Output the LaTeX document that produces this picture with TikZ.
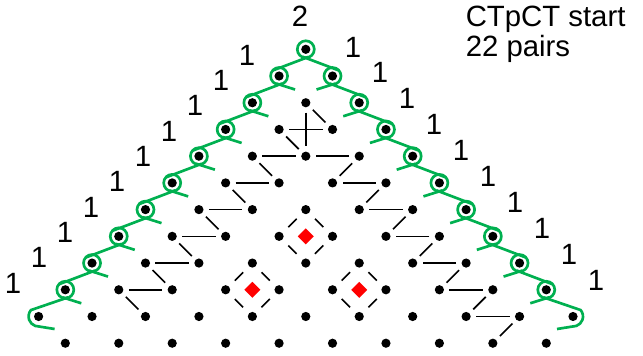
\documentclass[tikz,border=0pt]{standalone}
\usepackage{fontspec}
\setmainfont{Liberation Sans}
\usetikzlibrary{calc}
\definecolor{grn}{RGB}{0,176,80}
\begin{document}
\begin{tikzpicture}[x=0.75pt,y=-0.75pt,
  dot/.style={circle,fill=black,inner sep=0pt,minimum size=6.9pt},
  seg/.style={line width=1.2pt,shorten <=7.5pt,shorten >=7.5pt},
  dseg/.style={line width=1.2pt,shorten <=9.75pt,shorten >=9.75pt},
  rope/.style={draw=grn,line width=2pt},
  lbl/.style={font=\fontsize{22}{26}\selectfont,inner sep=0pt}]
\useasboundingbox (0,0) rectangle (643,356);
\def\U{26.72}
% lattice dots
\foreach \r in {0,...,10}{
  \foreach \j in {0,...,\r}{
    \pgfmathtruncatemacro\bq{\r-\j}
    \node[dot] (d-\j-\bq) at ({305.8+\U*(2*\j-\r)},{49.3+\U*\r}) {};
  }
}
\foreach \j in {1,...,10}{
  \pgfmathtruncatemacro\bq{11-\j}
  \node[dot] (d-\j-\bq) at ({305.8+\U*(2*\j-11)},{49.3+\U*11}) {};
}
% top pairs
\draw[seg] (d-1-1.center) -- (d-2-2.center);
\draw[seg] (d-1-2.center) -- (d-2-1.center);
\draw[seg] (d-1-1.center) -- (d-2-1.center);
\draw[seg] (d-1-2.center) -- (d-2-2.center);
% left chain
\foreach \k [evaluate=\k as \km using int(\k-1)] in {3,...,8}{
  \draw[seg] (d-1-\k.center) -- (d-2-\km.center);
  \draw[seg] (d-1-\k.center) -- (d-2-\k.center);
}
% right chain
\foreach \k [evaluate=\k as \km using int(\k-1)] in {3,...,9}{
  \draw[seg] (d-\k-1.center) -- (d-\km-2.center);
  \draw[seg] (d-\k-1.center) -- (d-\k-2.center);
}
% diamonds
\foreach \pa/\pb in {3/3,3/5,5/3}{
  \pgfmathtruncatemacro\qa{\pa+1}
  \pgfmathtruncatemacro\qb{\pb+1}
  \draw[dseg] (d-\pa-\pb.center) -- (d-\qa-\pb.center);
  \draw[dseg] (d-\qa-\pb.center) -- (d-\qa-\qb.center);
  \draw[dseg] (d-\qa-\qb.center) -- (d-\pa-\qb.center);
  \draw[dseg] (d-\pa-\qb.center) -- (d-\pa-\pb.center);
  \fill[red] ($(d-\pa-\pb.center)!0.5!(d-\qa-\qb.center)$) ++(0,-8) -- ++(8,8) -- ++(-8,8) -- ++(-8,-8) -- cycle;
}
% green rope
\draw[rope] (d-0-0.center) circle (8.5);
\draw[rope] ($(d-0-0.center)+(3,7.5)$) -- ($(d-0-1.center)+(220:8.5)$);
\draw[rope] ($(d-0-0.center)+(-3,7.5)$) -- ($(d-1-0.center)+(-40:8.5)$);
\foreach \r in {1,...,9}{
  \draw[rope] (d-0-\r.center) circle (8.5);
  \draw[rope] ($(d-0-\r.center)+(-3,7.5)$) -- ($(d-0-\r.center)+(16,13.5)$);
  \draw[rope] (d-\r-0.center) circle (8.5);
  \draw[rope] ($(d-\r-0.center)+(3,7.5)$) -- ($(d-\r-0.center)+(-16,13.5)$);
}
\foreach \r [evaluate=\r as \n using int(\r+1)] in {1,...,8}{
  \draw[rope] ($(d-0-\r.center)+(3,7.5)$) -- ($(d-0-\n.center)+(220:8.5)$);
  \draw[rope] ($(d-\r-0.center)+(-3,7.5)$) -- ($(d-\n-0.center)+(-40:8.5)$);
}
\draw[rope] ($(d-0-9.center)+(3,7.5)$) -- ($(d-0-10.center)+(220:10)$) arc[start angle=220,end angle=110,radius=10] -- ($(d-0-10.center)+(16,12.5)$);
\draw[rope] ($(d-9-0.center)+(-3,7.5)$) -- ($(d-10-0.center)+(-40:10)$) arc[start angle=-40,end angle=70,radius=10] -- ($(d-10-0.center)+(-16,12.5)$);
% labels
\foreach \i in {0,...,9}{
  \node[lbl] (l\i) at ({247-26*\i},{55+25.33*\i}) {1};
  \node[lbl] (r\i) at ({353+27*\i},{47+25.9*\i}) {1};
}
\node[lbl] (two) at (300,16) {2};
\node[lbl,anchor=base west] (t1) at (465.5,27) {CTpCT start};
\node[lbl,anchor=base west] (t2) at (465.5,57) {22 pairs};
\end{tikzpicture}
\end{document}
